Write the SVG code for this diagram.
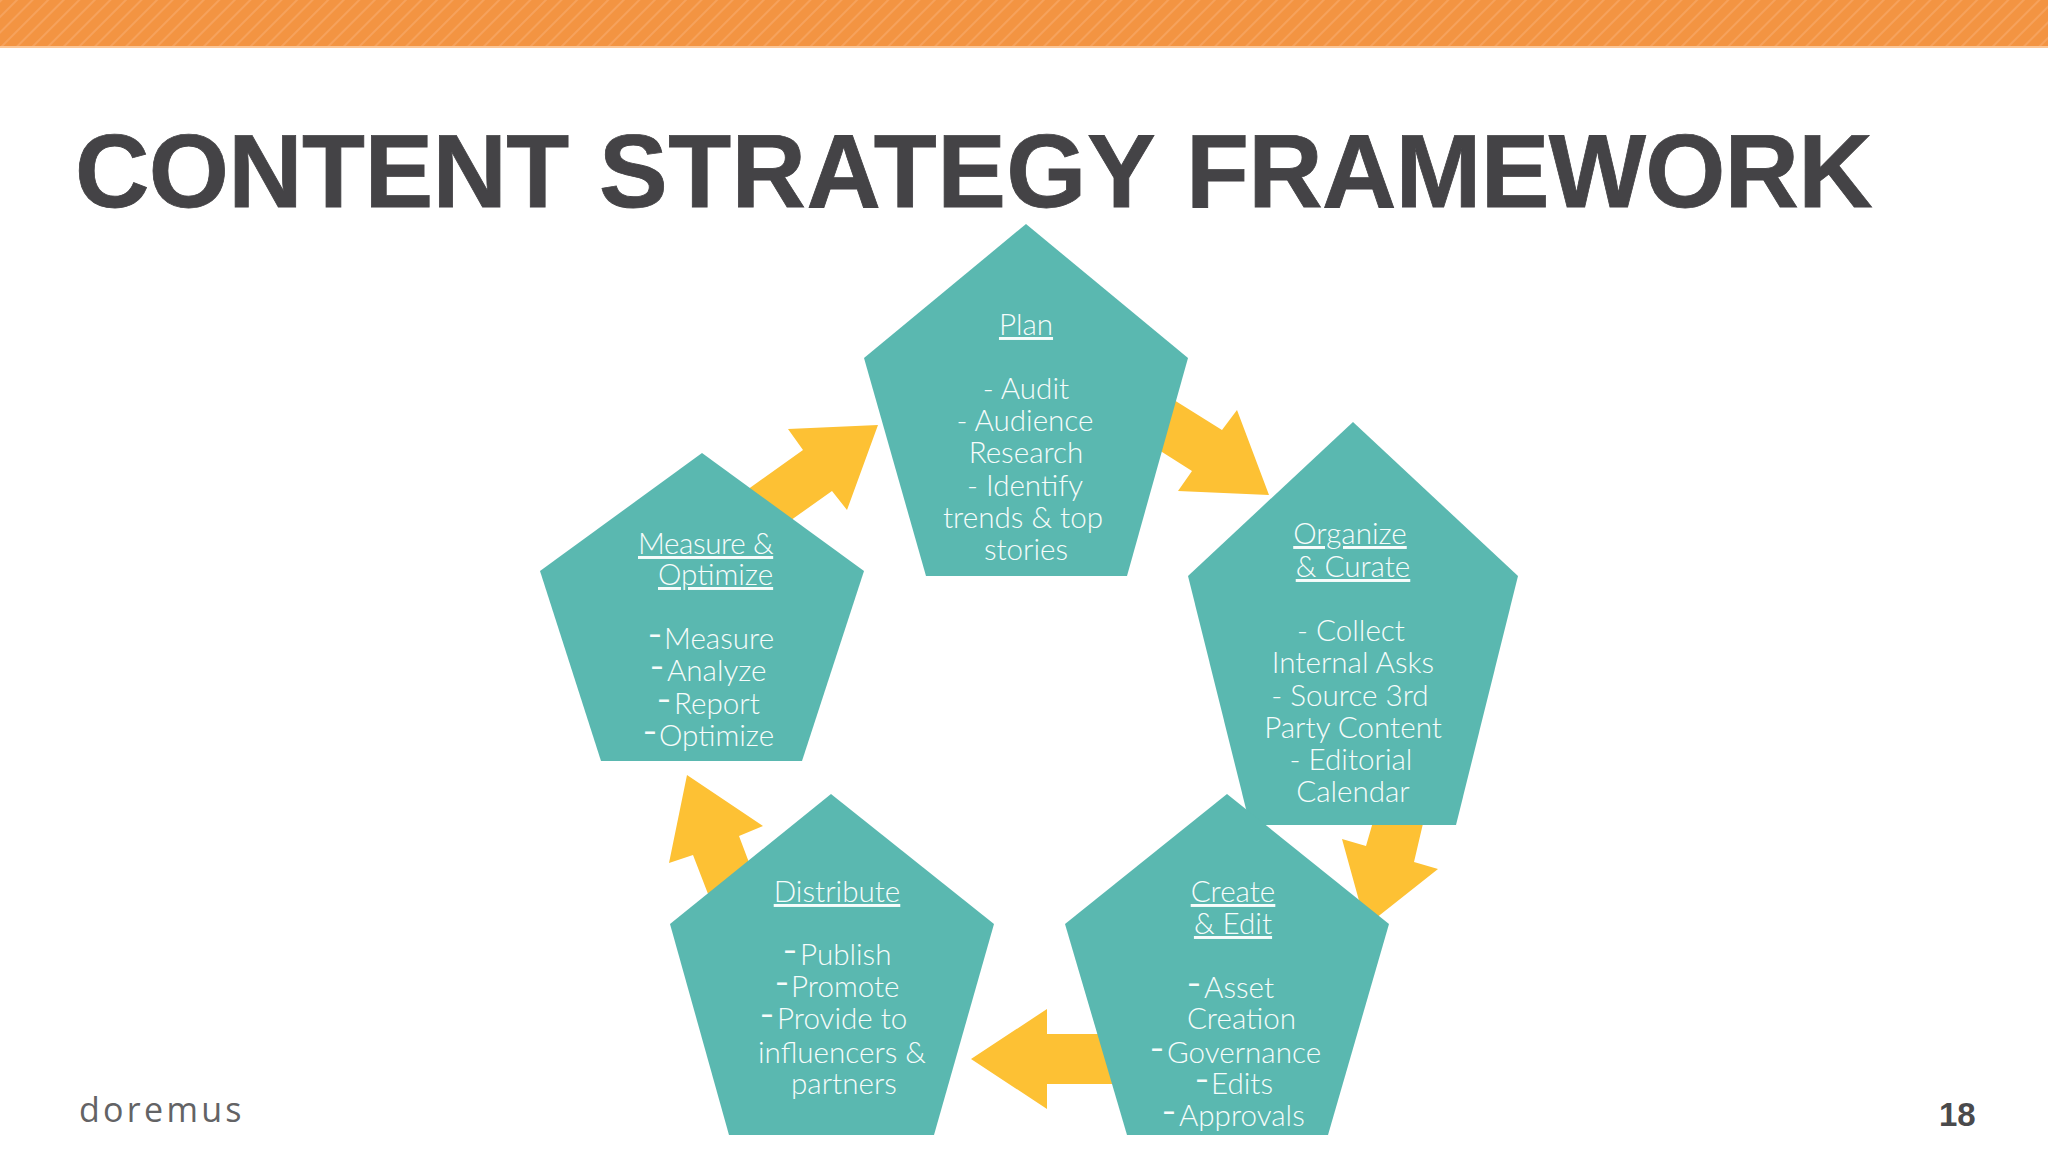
<svg xmlns="http://www.w3.org/2000/svg" width="2048" height="1152" viewBox="0 0 2048 1152">
<style>
.p{fill:#5ab8b0}
.a{fill:#fdc134}
.t{font-family:"Lato","Open Sans",sans-serif;font-weight:300;font-size:29.6px;fill:#f6fcfb}
.h{text-decoration:underline}
.m{text-anchor:middle}
.d{font-weight:900;font-size:24px}
.title{font-family:"Liberation Sans",Arial,sans-serif;font-weight:700;font-size:103px;fill:#444346;stroke:#444346;stroke-width:.8}
</style>
<defs>
<pattern id="st" width="11" height="11" patternUnits="userSpaceOnUse" patternTransform="rotate(45)">
<rect width="11" height="11" fill="#f39442"/>
<rect width="2" height="11" fill="#f6a25c"/>
</pattern>
</defs>
<rect width="2048" height="1152" fill="#fff"/>
<rect id="bar" width="2048" height="47" fill="url(#st)"/>
<rect y="46" width="2048" height="2" fill="#fbc696"/>
<text id="title" class="title" y="207"><tspan x="75" letter-spacing="-.6">CONTENT</tspan> <tspan x="599" letter-spacing=".5">STRATEGY</tspan> <tspan x="1186" letter-spacing="-.7">FRAMEWORK</tspan></text>
<g id="connectors">
<polygon class="a" points="1150,385 1222,430 1237,410 1269,495 1178,491 1192,471 1140,438"/>
<polygon class="a" points="1425,815 1414,862 1438,869 1366,926 1342,839 1366,846 1375,815"/>
<polygon class="a" points="1120,1034 1047,1034 1047,1009 971,1059 1047,1109 1047,1084 1120,1084"/>
<polygon class="a" points="765,905 739,836 763,826 687,775 669,863 693,855 720,925"/>
<polygon class="a" points="740,495 803,450 788,429 878,425 847,510 832,491 770,535"/>
</g>
<g id="node-plan">
<polygon class="p" points="1026,224 1188,358 1127,576 926,576 864,358"/>
<text class="t m h" x="1026" y="335">Plan</text>
<text class="t m" x="1026" y="399">- Audit</text>
<text class="t m" x="1025" y="431">- Audience</text>
<text class="t m" x="1026" y="463">Research</text>
<text class="t m" x="1025" y="496">- Identify</text>
<text class="t m" x="1023" y="528">trends &amp; top</text>
<text class="t m" x="1026" y="560">stories</text>
</g>
<g id="node-organize">
<polygon class="p" points="1353,422 1518,576 1456,825 1250,825 1188,576"/>
<text class="t m h" x="1350" y="544">Organize</text>
<text class="t m h" x="1353" y="577">&amp; Curate</text>
<text class="t m" x="1351" y="641">- Collect</text>
<text class="t m" x="1353" y="673">Internal Asks</text>
<text class="t m" x="1350" y="706">- Source 3rd</text>
<text class="t m" x="1353" y="738">Party Content</text>
<text class="t m" x="1351" y="770">- Editorial</text>
<text class="t m" x="1353" y="802">Calendar</text>
</g>
<g id="node-create">
<polygon class="p" points="1227,794 1389,924 1328,1135 1127,1135 1065,924"/>
<text class="t m h" x="1233" y="902">Create</text>
<text class="t m h" x="1233" y="934">&amp; Edit</text>
<text class="t" y="998"><tspan class="d" x="1187" dy="-6">–</tspan><tspan x="1204" dy="6">Asset</tspan></text>
<text class="t" x="1187" y="1029">Creation</text>
<text class="t" y="1063"><tspan class="d" x="1150" dy="-6">–</tspan><tspan x="1167" dy="6">Governance</tspan></text>
<text class="t" y="1094"><tspan class="d" x="1195" dy="-6">–</tspan><tspan x="1211" dy="6">Edits</tspan></text>
<text class="t" y="1126"><tspan class="d" x="1162" dy="-6">–</tspan><tspan x="1179" dy="6">Approvals</tspan></text>
</g>
<g id="node-distribute">
<polygon class="p" points="831,794 994,924 934,1135 729,1135 670,924"/>
<text class="t m h" x="837" y="902">Distribute</text>
<text class="t" y="965"><tspan class="d" x="783" dy="-6">–</tspan><tspan x="800" dy="6">Publish</tspan></text>
<text class="t" y="997"><tspan class="d" x="775" dy="-6">–</tspan><tspan x="791" dy="6">Promote</tspan></text>
<text class="t" y="1029"><tspan class="d" x="760" dy="-6">–</tspan><tspan x="777" dy="6">Provide to</tspan></text>
<text class="t" x="758" y="1063">influencers &amp;</text>
<text class="t" x="791" y="1094">partners</text>
</g>
<g id="node-measure">
<polygon class="p" points="702,453 864,571 802,761 601,761 540,571"/>
<text class="t h" x="638" y="554" letter-spacing="-.4">Measure &amp;</text>
<text class="t h" x="658" y="585">Optimize</text>
<text class="t" y="649"><tspan class="d" x="648" dy="-6">–</tspan><tspan x="664" dy="6">Measure</tspan></text>
<text class="t" y="681"><tspan class="d" x="650" dy="-6">–</tspan><tspan x="667" dy="6">Analyze</tspan></text>
<text class="t" y="714"><tspan class="d" x="657" dy="-6">–</tspan><tspan x="674" dy="6">Report</tspan></text>
<text class="t" y="746"><tspan class="d" x="643" dy="-6">–</tspan><tspan x="659" dy="6">Optimize</tspan></text>
</g>
<text id="logo" x="79" y="1122" font-family="'Open Sans',sans-serif" font-size="34" letter-spacing="3.3" fill="#636365">doremus</text>
<text id="page" x="1939" y="1126" font-family="'Liberation Sans',sans-serif" font-weight="700" font-size="33" fill="#4a4a4c">18</text>
</svg>
